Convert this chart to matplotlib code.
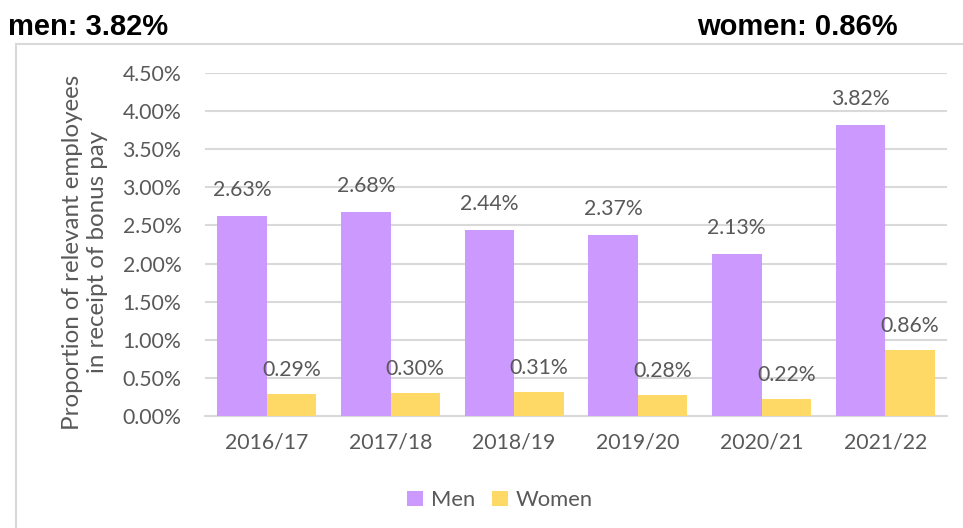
import matplotlib
matplotlib.use("Agg")
import matplotlib.pyplot as plt
import numpy as np
from matplotlib.patches import Rectangle

years = ["2016/17", "2017/18", "2018/19", "2019/20", "2020/21", "2021/22"]
men = [2.63, 2.68, 2.44, 2.37, 2.13, 3.82]
women = [0.29, 0.30, 0.31, 0.28, 0.22, 0.86]
yticks = [0, 0.5, 1.0, 1.5, 2.0, 2.5, 3.0, 3.5, 4.0, 4.5]

FONT = ["Lato", "DejaVu Sans"]
TXT = "#595959"
MEN_C = "#CC99FF"
WOMEN_C = "#FFD966"
GRID = "#D9D9D9"
FS = 15.3

W, H = 963, 528
fig = plt.figure(figsize=(W / 100, H / 100), dpi=100)

# outer chart frame
fig.patches.append(Rectangle((16 / W, -0.1), 1.2, 1 - 44 / H + 0.1, transform=fig.transFigure,
                             fill=False, edgecolor=GRID, linewidth=1.5))

fig.text(8 / W, 1 - 27 / H, "men: 3.82%", fontsize=21, fontweight="bold",
         family="Liberation Sans", color="black", va="center", ha="left")
fig.text(898 / W, 1 - 27 / H, "women: 0.86%", fontsize=21, fontweight="bold",
         family="Liberation Sans", color="black", va="center", ha="right")

ax = fig.add_axes([205 / W, 1 - 416 / H, (947 - 205) / W, (416 - 73) / H])
x = np.arange(len(years))
bw = 0.4
b1 = ax.bar(x - bw / 2, men, bw, color=MEN_C, label="Men", zorder=3)
b2 = ax.bar(x + bw / 2, women, bw, color=WOMEN_C, label="Women", zorder=3)

for rect, v in zip(b1, men):
    ax.annotate(f"{v:.2f}%", (rect.get_x() + rect.get_width() / 2, v), xytext=(0, 16),
                textcoords="offset pixels", ha="center", va="bottom", fontsize=FS,
                family=FONT, color=TXT)
for rect, v in zip(b2, women):
    ax.annotate(f"{v:.2f}%", (rect.get_x() + rect.get_width() / 2, v), xytext=(0, 14),
                textcoords="offset pixels", ha="center", va="bottom", fontsize=FS,
                family=FONT, color=TXT)

ax.set_xlim(-0.5, len(years) - 0.5)
ax.set_ylim(0, 4.5)
ax.set_yticks(yticks)
ax.set_yticklabels([f"{t:.2f}%" for t in yticks], family=FONT, fontsize=FS, color=TXT)
ax.set_xticks(x)
ax.set_xticklabels(years, family=FONT, fontsize=FS, color=TXT)
ax.tick_params(axis="both", length=0)
ax.tick_params(axis="y", pad=17)
ax.tick_params(axis="x", pad=12)
ax.grid(axis="y", color=GRID, linewidth=1.5, zorder=0)
for s in ["top", "right", "left"]:
    ax.spines[s].set_visible(False)
ax.spines["bottom"].set_color(GRID)
ax.spines["bottom"].set_linewidth(1.5)

fig.text(85 / W, 1 - 252 / H, "Proportion of relevant employees\nin receipt of bonus pay",
         rotation=90, ha="center", va="center", fontsize=17.4, family=FONT, color=TXT,
         linespacing=1.22)

leg = ax.legend(loc="center", bbox_to_anchor=(500 / W, 1 - 500 / H), bbox_transform=fig.transFigure,
                ncol=2, frameon=False, prop={"family": FONT, "size": 15.8},
                handlelength=0.7, handleheight=0.7, handletextpad=0.35, columnspacing=0.8)
for t in leg.get_texts():
    t.set_color(TXT)

fig.savefig("out.png", dpi=100)
